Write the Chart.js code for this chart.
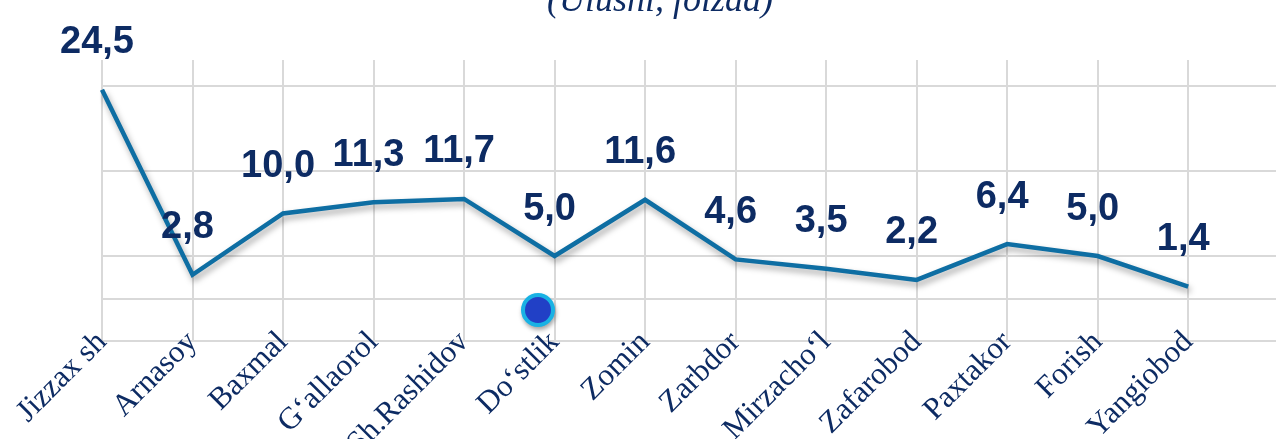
<!DOCTYPE html>
<html>
<head>
<meta charset="utf-8">
<script src="https://cdn.jsdelivr.net/npm/chart.js@4"></script>
<style>
	html, body { margin: 0; padding: 0; background: #fff; overflow: hidden; }
	#wrap { position: relative; width: 1276px; height: 439px; overflow: hidden; }
	#sub { position: absolute; top: -22px; left: 0; width: 1320px; text-align: center;
		font: italic 36px "Liberation Serif", serif; color: #0d2b63; }
	#dot { position: absolute; left: 521px; top: 293px; width: 26px; height: 26px; border-radius: 50%;
		background: #2140c6; border: 4px solid #19b2e4; box-shadow: 1px 3px 4px rgba(0,0,0,0.35); }
</style>
</head>
<body>
<div id="wrap">
	<canvas id="chart" width="1305" height="462"></canvas>
	<div id="sub">(Ulushi, foizda)</div>
	<div id="dot"></div>
</div>
<script>
let districts = ['Jizzax sh', 'Arnasoy', 'Baxmal', 'G‘allaorol', 'Sh.Rashidov', 'Do‘stlik', 'Zomin',
	'Zarbdor', 'Mirzacho‘l', 'Zafarobod', 'Paxtakor', 'Forish', 'Yangiobod'];
let shares = [24.5, 2.8, 10.0, 11.3, 11.7, 5.0, 11.6, 4.6, 3.5, 2.2, 6.4, 5.0, 1.4];
let gridValues = [-5, 0, 5, 15, 25];

let navy = '#0d2b63';

// value labels above the line
let valueLabels = {
	id: 'valueLabels',
	afterDatasetsDraw(chart) {
		let ctx = chart.ctx;
		let meta = chart.getDatasetMeta(0);
		ctx.save();
		ctx.font = 'bold 38px "Liberation Sans", Arial, sans-serif';
		ctx.fillStyle = navy;
		ctx.textAlign = 'center';
		ctx.textBaseline = 'middle';
		meta.data.forEach((pt, i) => {
			ctx.fillText(shares[i].toFixed(1).replace('.', ','), pt.x - 5, pt.y - 47);
		});
		ctx.restore();
	}
};

// soft shadow under the line
let lineShadow = {
	id: 'lineShadow',
	beforeDatasetDraw(chart) {
		let ctx = chart.ctx;
		ctx.save();
		ctx.shadowColor = 'rgba(0,0,0,0.35)';
		ctx.shadowBlur = 6;
		ctx.shadowOffsetX = 2;
		ctx.shadowOffsetY = 4;
	},
	afterDatasetDraw(chart) {
		chart.ctx.restore();
	}
};

try{
	new Chart(document.getElementById('chart'), {
		type: 'line',
		data: {
			labels: [...districts, ''],
			datasets: [{
				data: shares,
				borderColor: '#0e6ea3',
				borderWidth: 4.5,
				tension: 0,
				pointRadius: 0,
				fill: false
			}]
		},
		options: {
			responsive: false,
			animation: false,
			layout: { padding: { top: 60, left: 102, right: 0, bottom: 0 } },
			plugins: {
				legend: { display: false },
				tooltip: { enabled: false }
			},
			scales: {
				x: {
					offset: false,
					// labels sit a little into the plot, so don't clip them to the axis box
					afterUpdate: (axis) => { axis._computeLabelArea = () => undefined; },
					grid: { color: '#d9d9d9', lineWidth: 2, drawTicks: true, tickLength: -17 },
					border: { display: false },
					ticks: {
						autoSkip: false,
						minRotation: 45,
						maxRotation: 45,
						padding: 0,
						color: navy,
						font: { family: '"Liberation Serif", serif', size: 31 }
					}
				},
				y: {
					min: -5,
					max: 28,
					afterBuildTicks: (axis) => { axis.ticks = gridValues.map(v => ({ value: v })); },
					grid: { color: '#d9d9d9', lineWidth: 2, drawTicks: false },
					border: { display: false },
					ticks: { display: false }
				}
			}
		},
		plugins: [lineShadow, valueLabels]
	});
}
catch(error){
	console.log(error);
}
</script>
</body>
</html>
